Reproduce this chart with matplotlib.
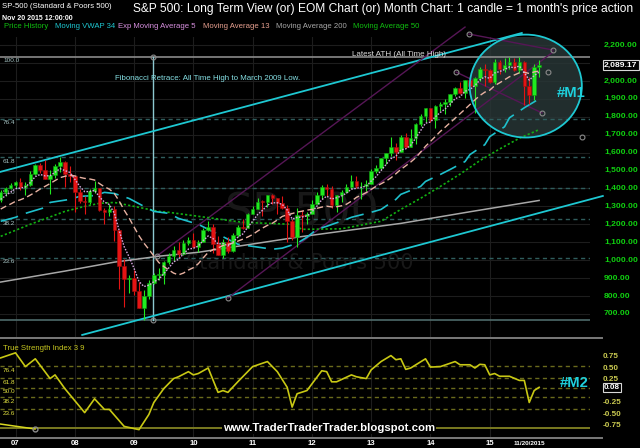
import matplotlib
matplotlib.use('Agg')
import matplotlib.pyplot as plt
import matplotlib.transforms as mtransforms
from matplotlib.patches import Ellipse
from matplotlib import font_manager
import numpy as np

plt.rcParams['lines.scale_dashes'] = False

# ---------------- data ----------------
first_month = -3          # Oct 2006 (month index, 0 = Jan 2007)
year_labels = ['07', '08', '09', '10', '11', '12', '13', '14', '15']
last_label = '11/20/2015'

opens = [1336, 1378, 1401,
         1418, 1438, 1407, 1421, 1482, 1531, 1503, 1455, 1474, 1527, 1549, 1481,
         1468, 1379, 1331, 1323, 1386, 1400, 1280, 1267, 1283, 1166, 969, 896,
         903, 826, 735, 798, 873, 919, 919, 987, 1021, 1057, 1036, 1096,
         1115, 1074, 1104, 1169, 1187, 1089, 1031, 1102, 1049, 1141, 1183, 1181,
         1258, 1286, 1327, 1326, 1364, 1345, 1321, 1292, 1219, 1131, 1253, 1247,
         1258, 1312, 1366, 1408, 1398, 1310, 1362, 1379, 1407, 1441, 1412, 1416,
         1426, 1498, 1515, 1569, 1598, 1631, 1606, 1686, 1633, 1682, 1757, 1806,
         1848, 1783, 1859, 1872, 1884, 1924, 1960, 1931, 2003, 1972, 2018, 2068,
         2059, 1995, 2105, 2068, 2086, 2107, 2063, 2104, 1972, 1920, 2079]
highs = [1389, 1407, 1432,
         1441, 1461, 1438, 1498, 1535, 1540, 1556, 1503, 1539, 1576, 1552, 1523,
         1471, 1396, 1359, 1397, 1440, 1404, 1292, 1313, 1303, 1167, 1007, 919,
         943, 877, 832, 888, 930, 956, 996, 1040, 1080, 1101, 1113, 1130,
         1150, 1113, 1180, 1220, 1200, 1132, 1120, 1130, 1151, 1196, 1227, 1263,
         1303, 1345, 1333, 1365, 1371, 1346, 1357, 1308, 1230, 1293, 1277, 1270,
         1333, 1378, 1420, 1423, 1415, 1364, 1392, 1426, 1474, 1471, 1434, 1448,
         1510, 1531, 1570, 1598, 1688, 1655, 1699, 1710, 1730, 1765, 1814, 1850,
         1851, 1867, 1884, 1897, 1925, 1968, 1991, 2005, 2019, 2019, 2076, 2094,
         2065, 2120, 2118, 2126, 2135, 2129, 2133, 2113, 2021, 2094, 2116]
lows = [1327, 1360, 1396,
        1403, 1389, 1364, 1416, 1476, 1484, 1452, 1371, 1457, 1489, 1406, 1435,
        1270, 1317, 1257, 1315, 1373, 1272, 1200, 1247, 1106, 840, 741, 815,
        805, 735, 667, 783, 866, 888, 869, 979, 993, 1020, 1029, 1086,
        1071, 1045, 1101, 1165, 1040, 1028, 1011, 1039, 1048, 1131, 1173, 1180,
        1257, 1284, 1249, 1295, 1311, 1259, 1283, 1101, 1114, 1075, 1158, 1202,
        1258, 1311, 1341, 1357, 1292, 1267, 1325, 1372, 1397, 1403, 1343, 1385,
        1426, 1486, 1502, 1537, 1582, 1560, 1604, 1627, 1633, 1646, 1747, 1768,
        1770, 1738, 1834, 1814, 1860, 1916, 1928, 1905, 1964, 1821, 2002, 1973,
        1988, 1981, 2040, 2048, 2068, 2056, 2045, 1867, 1872, 1894, 2019]
closes = [1378, 1401, 1418,
          1438, 1407, 1421, 1482, 1531, 1503, 1455, 1474, 1527, 1549, 1481, 1468,
          1379, 1331, 1323, 1386, 1400, 1280, 1267, 1283, 1166, 969, 896, 903,
          826, 735, 798, 873, 919, 919, 987, 1021, 1057, 1036, 1096, 1115,
          1074, 1104, 1169, 1187, 1089, 1031, 1102, 1049, 1141, 1183, 1181, 1258,
          1286, 1327, 1326, 1364, 1345, 1321, 1292, 1219, 1131, 1253, 1247, 1258,
          1312, 1366, 1408, 1398, 1310, 1362, 1379, 1407, 1441, 1412, 1416, 1426,
          1498, 1515, 1569, 1598, 1631, 1606, 1686, 1633, 1682, 1757, 1806, 1848,
          1783, 1859, 1872, 1884, 1924, 1960, 1931, 2003, 1972, 2018, 2068, 2059,
          1995, 2105, 2068, 2086, 2107, 2063, 2104, 1972, 1920, 2079, 2089]

ema5 = [1339, 1360, 1379,
        1399, 1402, 1408, 1433, 1466, 1478, 1470, 1471, 1490, 1510, 1500, 1489,
        1452, 1412, 1382, 1383, 1389, 1353, 1324, 1310, 1262, 1164, 1075, 1018,
        954, 881, 853, 860, 880, 893, 924, 956, 990, 1005, 1035, 1062,
        1066, 1079, 1109, 1135, 1120, 1090, 1094, 1079, 1100, 1128, 1146, 1183,
        1217, 1254, 1278, 1307, 1320, 1320, 1311, 1280, 1230, 1238, 1241, 1247,
        1269, 1301, 1337, 1357, 1341, 1348, 1358, 1374, 1396, 1401, 1406, 1413,
        1441, 1466, 1500, 1533, 1566, 1579, 1615, 1621, 1641, 1680, 1722, 1764,
        1770, 1800, 1824, 1844, 1871, 1901, 1911, 1942, 1952, 1974, 2005, 2023,
        2014, 2044, 2052, 2063, 2078, 2073, 2083, 2046, 2004, 2029, 2049]
ma13 = [1285, 1300, 1313,
        1328, 1337, 1348, 1363, 1379, 1397, 1412, 1427, 1444, 1460, 1468, 1473,
        1470, 1462, 1456, 1453, 1447, 1427, 1409, 1396, 1372, 1329, 1279, 1235,
        1185, 1136, 1095, 1060, 1024, 987, 965, 946, 928, 918, 928, 945,
        958, 980, 1013, 1043, 1059, 1068, 1082, 1087, 1096, 1106, 1117, 1129,
        1143, 1162, 1179, 1194, 1206, 1224, 1244, 1253, 1260, 1268, 1273, 1279,
        1283, 1289, 1296, 1301, 1297, 1298, 1303, 1312, 1329, 1350, 1363, 1377,
        1395, 1411, 1426, 1441, 1459, 1482, 1506, 1526, 1547, 1571, 1602, 1635,
        1662, 1690, 1718, 1742, 1767, 1792, 1817, 1842, 1868, 1894, 1918, 1937,
        1948, 1973, 1989, 2006, 2023, 2033, 2045, 2048, 2041, 2050, 2055]

vwap_m = [-3, 0, 2, 6, 7, 11, 13, 16, 18, 20, 23, 26, 28, 31, 33, 37, 39, 43, 45, 52,
          54, 57, 59, 61, 63, 67, 68, 72, 74, 77, 78, 82, 83, 86, 88, 91, 92, 95, 96,
          99, 100, 103, 105, 106]
vwap_v = [1217, 1239, 1261, 1294, 1322, 1339, 1356, 1360, 1378, 1372, 1344, 1300, 1272,
          1261, 1233, 1200, 1172, 1117, 1089, 1061, 1067, 1094, 1128, 1172, 1189, 1228,
          1239, 1267, 1283, 1339, 1367, 1411, 1439, 1478, 1506, 1550, 1589, 1644, 1689,
          1744, 1794, 1850, 1883, 1900]

ma50_m = [-3, 3, 10, 14, 17, 20, 24, 29, 31, 46, 56, 58, 66, 74, 78, 82, 86, 90, 94, 98, 102, 106]
ma50_v = [1133, 1200, 1272, 1300, 1317, 1322, 1300, 1272, 1267, 1211, 1200, 1172, 1175,
          1217, 1283, 1345, 1411, 1480, 1555, 1620, 1680, 1728]

ma200_m = [-3, 10, 20, 29, 37, 57, 67, 78, 92, 106]
ma200_v = [878, 939, 989, 1022, 1044, 1128, 1165, 1205, 1270, 1333]

tsi_m = [-3, 0, 2, 4, 7, 8, 10, 12, 14, 16, 18, 19, 22, 25, 27, 28, 30, 32, 33, 35,
         36, 37, 39, 41, 42, 43, 45, 46, 48, 51, 53, 55, 56, 57, 59, 62, 63, 64, 65, 68,
         69, 71, 72, 74, 76, 77, 78, 79, 80, 83, 84, 86, 89, 90, 92, 93, 94, 95, 96, 97,
         98, 100, 102, 103, 104, 105, 106]
tsi_v = [0.72, 0.83, 0.53, 0.70, 0.27, 0.35, 0.05, -0.21, -0.47, -0.17,
         -0.40, -0.40, -0.77, -0.84, -0.51, -0.25, 0.05, 0.27, 0.31, 0.42,
         0.35, 0.38, 0.50, -0.03, 0.01, -0.03, 0.20, 0.31, 0.53, 0.64,
         0.42, 0.08, -0.35, -0.06, 0.01, 0.44, 0.42, 0.20, 0.20, 0.35,
         0.31, 0.27, 0.46, 0.64, 0.77, 0.68, 0.70, 0.47, 0.50, 0.70,
         0.52, 0.53, 0.64, 0.57, 0.57, 0.50, 0.58, 0.57, 0.35, 0.38,
         0.32, 0.32, 0.23, 0.23, -0.25, 0.01, 0.08]

price_ticks = [2200, 2100, 2000, 1900, 1800, 1700, 1600, 1500, 1400, 1300, 1200, 1100, 1000, 900, 800, 700]
tsi_ticks = [0.75, 0.50, 0.25, -0.25, -0.50, -0.75]
fib_levels = [23.6, 38.2, 50.0, 61.8, 76.4]
fib_low, fib_high = 666.79, 2134.72
fib_month = 27.8
tsi_fib_low, tsi_fib_high = -0.81, 0.96
last_price = 2089.17
last_tsi = 0.08

# drawing-tool anchor points (month, price)
upper_channel = ([-3.14, 102.5], [1492, 2267])
lower_channel = ([13.5, 118.9], [583, 1358])
fork_lines = [([28.6, 91.0], [1023, 2300]),
              ([43.0, 108.8], [789, 2161]),
              ([89.2, 106.6], [2049, 1821]),
              ([91.8, 108.8], [2261, 2172])]
handle_m = [43.0, 28.6, 89.2, 91.8, 108.8, 107.8, 106.6, 114.7]
handle_p = [789, 1023, 2049, 2261, 2172, 2049, 1821, 1687]
circle_center = (103.3, 1971)
circle_size = (22.7, 574)

# ---------------- fonts ----------------
names = {f.name for f in font_manager.fontManager.ttflist}
NARROW = 'Liberation Sans Narrow' if 'Liberation Sans Narrow' in names else 'Liberation Sans'
nscale = 1.0 if NARROW == 'Liberation Sans Narrow' else 0.82
SANS = 'Liberation Sans' if 'Liberation Sans' in names else 'DejaVu Sans'

W, H = 640, 448
fig = plt.figure(figsize=(W / 100, H / 100), dpi=100, facecolor='black')


def fx(x):
    return x / W


def fy(y):
    return 1 - y / H


ax = fig.add_axes([0, fy(337), fx(590), 300 / H])
ax.set_xlim(-3.14, 116.3)
ax.set_ylim(571.5, 2244.6)
ax.set_axis_off()

tax = fig.add_axes([0, fy(437), fx(590), 97 / H])
tax.set_xlim(-3.14, 116.3)
tax.set_ylim(-1.0, 1.1087)
tax.set_axis_off()

months = np.arange(first_month, first_month + len(closes))
year_months = [12 * k for k in range(len(year_labels))]

# grid
for m in year_months:
    ax.axvline(m, color='#1d1d1d', lw=0.8, zorder=0)
    tax.axvline(m, color='#1d1d1d', lw=0.8, zorder=0)
for p in price_ticks:
    ax.axhline(p, color='#1d1d1d', lw=0.8, zorder=0)

# watermark
ax.text(58.0, 1263, 'SP-500', color='#181818', fontsize=32, family='DejaVu Sans',
        ha='center', va='center', zorder=0.5)
ax.text(57.6, 984, 'Standard & Poors 500', color='#181818', fontsize=15, family='DejaVu Sans',
        ha='center', va='center', zorder=0.5)

# highlight circle
ax.add_patch(Ellipse(circle_center, circle_size[0], circle_size[1], facecolor='#283636',
                     alpha=0.85, edgecolor='none', zorder=0.8))
ax.add_patch(Ellipse(circle_center, circle_size[0], circle_size[1], facecolor='none',
                     edgecolor='#1ec8d2', lw=1.3, zorder=6, clip_on=False))

# fibonacci
trans = mtransforms.blended_transform_factory(fig.transFigure, ax.transData)
lab_off = mtransforms.ScaledTranslation(0, -1.2 / 72, fig.dpi_scale_trans)
for lev in fib_levels:
    p = fib_low + (fib_high - fib_low) * lev / 100
    ax.axhline(p, color='#2f5d5d', lw=1.0, ls=(0, (3, 2.5)), zorder=1)
    ax.text(fx(3), p, f'{lev:.1f}', transform=trans + lab_off, color='#a6c4c4',
            fontsize=4.6, family=SANS, va='top', ha='left', zorder=2)
ax.axhline(fib_high, color='#8a8a8a', lw=1.2, zorder=1)
ax.axhline(fib_low, color='#4e6a6a', lw=1.2, zorder=1)
ax.text(fx(3), fib_high, '100.0', transform=trans + lab_off, color='#a6c4c4',
        fontsize=4.6, family=SANS, va='top', ha='left', zorder=2)
ax.plot([fib_month, fib_month], [fib_low, fib_high], color='#8cc8d0', lw=1.0, zorder=2,
        marker='o', mfc='none', mec='#8a8a8a', ms=3.5, mew=0.8)

# channel & pitchfork lines
ax.plot(*upper_channel, color='#1ec8d2', lw=1.3, zorder=2, clip_on=False)
ax.plot(*lower_channel, color='#1ec8d2', lw=1.3, zorder=2, clip_on=False)
for xs, ys in fork_lines:
    ax.plot(xs, ys, color='#561656', lw=1.0, zorder=2, clip_on=False)
ax.plot(handle_m, handle_p, ls='none', marker='o', mfc='none', mec='#8a8a8a', ms=3.5,
        mew=0.8, zorder=7, clip_on=False)

# moving averages
ax.plot(ma200_m, ma200_v, color='#a8a8a8', lw=1.1, zorder=2)
ax.plot(ma50_m, ma50_v, color='#12b012', lw=1.2, ls=(0, (1.6, 1.6)), zorder=2)
ax.plot(vwap_m, vwap_v, color='#1ec0cc', lw=1.2, ls=(0, (13, 6)), zorder=2)
ax.plot(months, ma13, color='#e8b2a2', lw=1.0, ls=(0, (4.5, 2.5)), zorder=4)
ax.plot(months, ema5, color='#d8a8e0', lw=1.0, ls=(0, (1.1, 1.1)), zorder=5)

# candles
o = np.array(opens); c = np.array(closes); hi = np.array(highs); lo = np.array(lows)
up = c >= o
body_col = np.where(up, '#20ea20', '#e41414')
edge_col = np.where(up, '#0f9a0f', '#a00c0c')
ax.vlines(months, lo, hi, colors=body_col, lw=0.8, zorder=3)
ax.bar(months, np.maximum(np.abs(c - o), 3), bottom=np.minimum(o, c), width=0.72,
       color=body_col, edgecolor=edge_col, linewidth=0.4, zorder=3)

# price axis labels (the level next to the live price box is hidden, as in the source)
for p in price_ticks:
    if abs(p - last_price) < 40:
        continue
    ax.text(fx(604), p, f'{p:,.2f}', transform=trans, color='#10d010', fontsize=6.1,
            family=SANS, fontweight='bold', va='center', ha='left', clip_on=False)
ax.text(fx(604), last_price, f'{last_price:,.2f}', transform=trans, color='white',
        fontsize=6.1, family=SANS, fontweight='bold', va='center', ha='left', clip_on=False,
        zorder=10, bbox=dict(boxstyle='square,pad=0.15', fc='black', ec='#d8d8d8', lw=0.8))

# TSI panel
ttrans = mtransforms.blended_transform_factory(fig.transFigure, tax.transData)
for lev in fib_levels:
    v = tsi_fib_low + (tsi_fib_high - tsi_fib_low) * lev / 100
    tax.axhline(v, color='#6a6a1c', lw=1.0, ls=(0, (3, 2.5)), zorder=1)
    tax.text(fx(3), v, f'{lev:.1f}', transform=ttrans + lab_off, color='#e0e040',
             fontsize=4.6, family=SANS, va='top', ha='left')
tax.axhline(tsi_fib_low, color='#7a7a20', lw=1.4, zorder=1)
tax.plot([-3.14, 3.95], [-0.717, -0.826], color='#d8d820', lw=1.1, zorder=2,
         marker='o', markevery=[1], mfc='none', mec='#8a8a8a', ms=3.5)
tax.plot(tsi_m, tsi_v, color='#c8c814', lw=1.2, zorder=3)
for v in tsi_ticks:
    tax.text(fx(603), v, f'{v:.2f}', transform=ttrans, color='#c8c850', fontsize=5.9,
             family=SANS, fontweight='bold', va='center', ha='left', clip_on=False)
tax.text(fx(604), last_tsi, f'{last_tsi:.2f}', transform=ttrans, color='white', fontsize=5.9,
         family=SANS, fontweight='bold', va='center', ha='left', clip_on=False, zorder=10,
         bbox=dict(boxstyle='square,pad=0.15', fc='black', ec='#d8d8d8', lw=0.8))

# x labels
xtrans = mtransforms.blended_transform_factory(tax.transData, fig.transFigure)
for m, lab in zip(year_months, year_labels):
    tax.text(m, fy(443), lab, transform=xtrans, color='white', fontsize=5.6, family=SANS,
             fontweight='bold', ha='center', va='center', clip_on=False)
tax.text(104, fy(443), last_label, transform=xtrans, color='white', fontsize=4.6, family=SANS,
         fontweight='bold', ha='center', va='center', clip_on=False)

# separators
for yy in (337.5, 437.5):
    fig.add_artist(plt.Line2D([0, fx(602)], [fy(yy), fy(yy)], color='#7a7a7a', lw=1.4))

# header texts
fig.text(fx(2), fy(7), 'SP-500 (Standard & Poors 500)', color='white', fontsize=5.6,
         family=SANS, va='center', ha='left')
fig.text(fx(2), fy(19), 'Nov 20 2015 12:00:00', color='white', fontsize=5.0,
         family=SANS, fontweight='bold', va='center', ha='left')
fig.text(fx(133), fy(9), "S&P 500: Long Term View (or) EOM Chart (or) Month Chart: 1 candle = 1 month's price action",
         color='white', fontsize=10.55 * nscale, family=NARROW, va='center', ha='left')

legend_items = [('Price History', '#10c010', 4), ('Moving VWAP 34', '#1ec8d2', 55),
                ('Exp Moving Average 5', '#d890e0', 118), ('Moving Average 13', '#e8a090', 203),
                ('Moving Average 200', '#a8a8a8', 276), ('Moving Average 50', '#10c010', 353)]
for txt, col, x0 in legend_items:
    fig.text(fx(x0), fy(27), txt, color=col, fontsize=5.6, family=SANS, va='center', ha='left')

fig.text(fx(115), fy(78), 'Fibonacci Retrace: All Time High to March 2009 Low.', color='#86e0e4',
         fontsize=5.7, family=SANS, va='center', ha='left')
fig.text(fx(352), fy(55.5), 'Latest ATH (All Time High)', color='#dcdcdc', fontsize=5.75,
         family=SANS, va='baseline', ha='left')

fig.text(fx(571), fy(93), '#M1', color='#1ed0dc', fontsize=13 * nscale, family=NARROW,
         fontweight='bold', va='center', ha='center')
fig.text(fx(574), fy(383), '#M2', color='#1ed0dc', fontsize=13 * nscale, family=NARROW,
         fontweight='bold', va='center', ha='center')
fig.text(fx(329), fy(428), 'www.TraderTraderTrader.blogspot.com', color='white',
         fontsize=10.0 * nscale, family=NARROW, fontweight='bold', va='center', ha='center',
         zorder=10, bbox=dict(boxstyle='square,pad=0.1', fc='black', ec='none'))
fig.text(fx(3), fy(348), 'True Strength Index 3 9', color='#c8c820', fontsize=5.6,
         family=SANS, va='center', ha='left')

fig.savefig('out.png', dpi=100, facecolor='black')
